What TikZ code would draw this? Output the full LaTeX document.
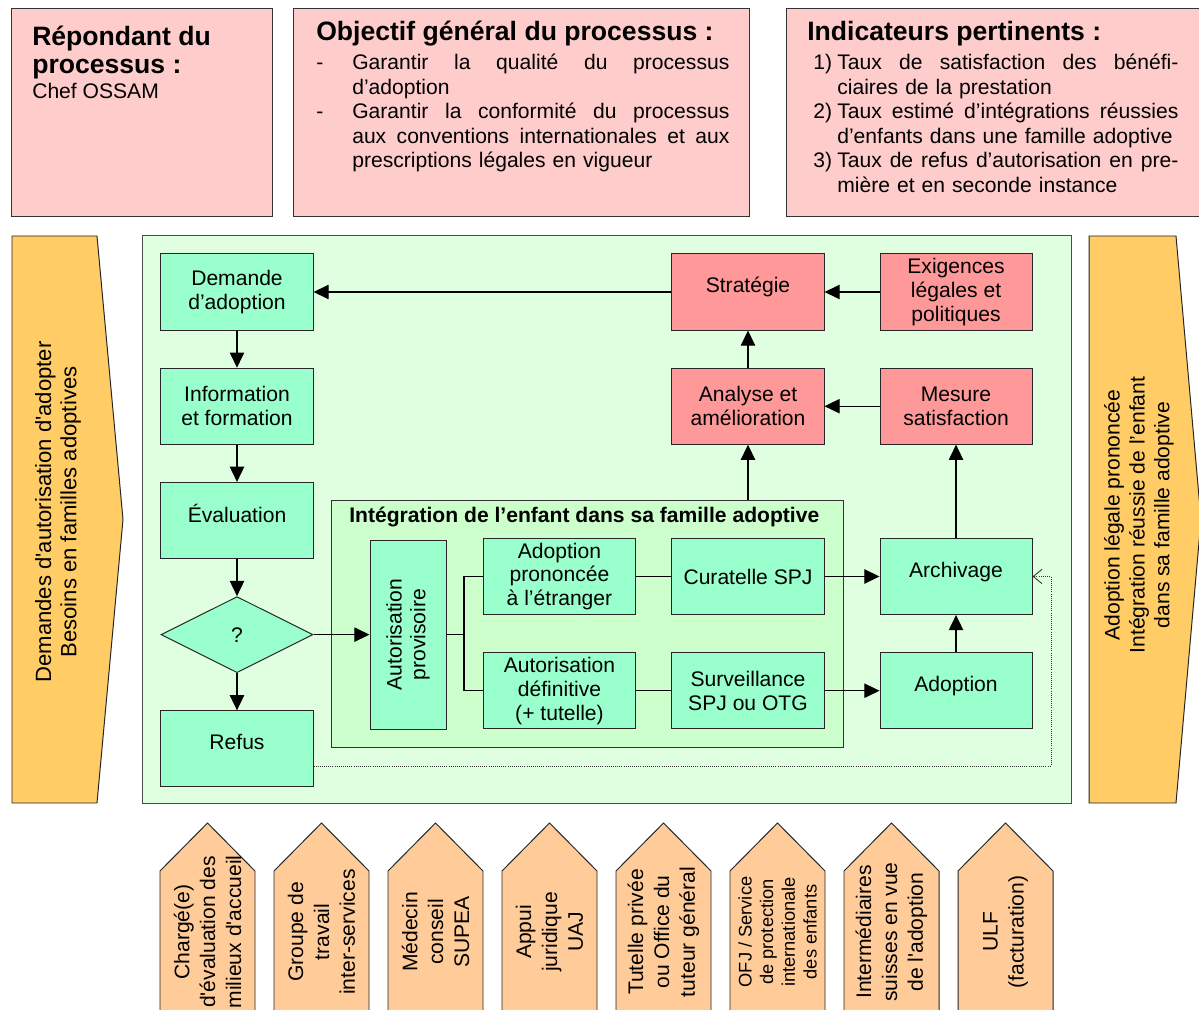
\documentclass[tikz,border=0pt]{standalone}
\usepackage{fontspec}
\setmainfont{Liberation Sans}
\usepackage{tikz}
\usetikzlibrary{shapes.geometric, arrows.meta, positioning, calc}
\definecolor{mint}{HTML}{99FFCC}
\definecolor{salmon}{HTML}{FF9999}
\definecolor{pinktop}{HTML}{FFCCCC}
\definecolor{paleg}{HTML}{E0FFE0}
\definecolor{innerg}{HTML}{CCFFCC}
\definecolor{flowor}{HTML}{FFCC66}
\definecolor{peach}{HTML}{FFCC99}
\newcommand\boxfont{\fontsize{15}{17}\selectfont}
\newcommand\headfont{\bfseries\fontsize{18.9}{20.6}\selectfont}
\newcommand\topfont{\fontsize{15}{17.4}\selectfont}

\begin{document}
\begin{tikzpicture}[
        x=0.025cm, y=-0.025cm,
        node distance=0.93cm and 0.93cm,
        every node/.style={font=\boxfont},
        box/.style={rectangle, draw=black!85, fill=mint, line width=0.7pt, minimum width=3.8cm, minimum height=1.9cm, align=center, inner sep=0pt},
        redbox/.style={box, fill=salmon},
        raised/.style={text depth=10pt},
        panel/.style={rectangle, draw=black!80, line width=0.7pt, inner sep=0pt},
        arrow/.style={-{Triangle[length=0.38cm, width=0.36cm]}, draw=black, line width=0.8pt},
        link/.style={draw=black, line width=0.8pt},
        backlink/.style={draw=black!80, line width=0.6pt, dash pattern=on 0.6pt off 0.9pt, -{Straight Barb[length=0.22cm, width=0.36cm]}},
        flow/.style={draw=black!85, fill=flowor, line width=0.7pt},
        actor/.style={draw=black!85, fill=peach, line width=0.7pt},
        vtext/.style={rotate=90, align=center, inner sep=0pt},
        plain/.style={anchor=base west, align=left, inner sep=0pt}
    ]
        \useasboundingbox (0,0) rectangle (1199,1010);

        \node[panel, fill=pinktop, minimum width=6.5cm, minimum height=5.175cm] (resp) at (142,112.5) {};
        \node[panel, fill=pinktop, minimum width=11.375cm, minimum height=5.175cm] (obj) at (521.5,112.5) {};
        \node[panel, fill=pinktop, minimum width=10.4cm, minimum height=5.175cm] (ind) at (995,112.5) {};

        \node[plain, font=\headfont] (resph) at (32,74) {Répondant du\\processus :};
        \node[plain, font=\topfont] (respb) at (32,99) {Chef OSSAM};

        \node[plain, font=\headfont] (objh) at (316,41) {Objectif général du processus :};
        \node[plain, font=\topfont, text width=10.325cm] (objb) at (316,70) {%
            \makebox[0.9cm][l]{-}\makebox[9.425cm][s]{Garantir\hfill la\hfill qualité\hfill du\hfill processus}\\
            \hspace*{0.9cm}d’adoption\\
            \makebox[0.9cm][l]{-}\makebox[9.425cm][s]{Garantir\hfill la\hfill conformité\hfill du\hfill processus}\\
            \hspace*{0.9cm}\makebox[9.425cm][s]{aux\hfill conventions\hfill internationales\hfill et\hfill aux}\\
            \hspace*{0.9cm}prescriptions légales en vigueur};

        \node[plain, font=\headfont] (indh) at (807,41) {Indicateurs pertinents :};
        \node[plain, font=\topfont, text width=9.125cm] (indb) at (813,70) {%
            \makebox[0.6cm][l]{1)}\makebox[8.525cm][s]{Taux\hfill de\hfill satisfaction\hfill des\hfill bénéfi-}\\
            \hspace*{0.6cm}ciaires de la prestation\\
            \makebox[0.6cm][l]{2)}\makebox[8.525cm][s]{Taux\hfill estimé\hfill d’intégrations\hfill réussies}\\
            \hspace*{0.6cm}d’enfants dans une famille adoptive\\
            \makebox[0.6cm][l]{3)}\makebox[8.525cm][s]{Taux\hfill de\hfill refus\hfill d’autorisation\hfill en\hfill pre-}\\
            \hspace*{0.6cm}mière et en seconde instance};

        \draw[flow] (12,236) -- (97,236) -- (123,519.5) -- (97,803) -- (12,803) -- cycle;
        \node[vtext, font=\fontsize{15.7}{17.9}\selectfont] (inputs) at (58,512) {Demandes d\textquotesingle autorisation d\textquotesingle adopter\\Besoins en familles adoptives};
        \draw[flow] (1089,236) -- (1176,236) -- (1201,519.5) -- (1176,803) -- (1089,803) -- cycle;
        \node[vtext, font=\fontsize{15}{17.7}\selectfont] (outputs) at (1139,515) {Adoption légale prononcée\\Intégration réussie de l’enfant\\dans sa famille adoptive};

        \node[panel, draw=black!70, fill=paleg, minimum width=23.2cm, minimum height=14.175cm] (main) at (607,519.5) {};
        \node[panel, fill=innerg, minimum width=12.775cm, minimum height=6.15cm] (integ) at (587.5,624) {};
        \node[plain, font=\bfseries\boxfont] (integt) at (349,523) {Intégration de l’enfant dans sa famille adoptive};

        \node[box] (dem) at (237,292) {Demande\\d’adoption};
        \node[box, below=of dem] (info) {Information\\et formation};
        \node[box, raised, below=of info] (eval) {Évaluation};
        \node[box, diamond, aspect=2, below=of eval] (q) {?};
        \node[box, raised, below=of q] (refus) {Refus};

        \node[redbox, raised] (strat) at (748,292) {Stratégie};
        \node[redbox, right=1.375cm of strat] (exig) {Exigences\\légales et\\politiques};
        \node[redbox, below=of strat] (anal) {Analyse et\\amélioration};
        \node[redbox, below=of exig] (mes) {Mesure\\satisfaction};

        \coordinate (provx) at (408,0);
        \node[box, rotate=90, minimum width=4.725cm] (prov) at (provx |- q) {Autorisation\\provisoire};
        \node[box] (pron) at (559.5,576.5) {Adoption\\prononcée\\à l’étranger};
        \node[box, below=of pron] (adef) {Autorisation\\définitive\\(+ tutelle)};
        \node[box] (cur) at (strat |- pron) {Curatelle SPJ};
        \node[box] (surv) at (strat |- adef) {Surveillance\\SPJ ou OTG};
        \node[box, raised] (arch) at (mes |- cur) {Archivage};
        \node[box, raised] (adop) at (mes |- surv) {Adoption};

        \coordinate (fork) at (prov -| 464,0);
        \coordinate (back) at (1051,766);

        \draw[arrow] (dem) -- (info);
        \draw[arrow] (info) -- (eval);
        \draw[arrow] (eval) -- (q);
        \draw[arrow] (q) -- (refus);
        \draw[arrow] (q.east) -- (prov);
        \draw[link] (prov) -- (fork);
        \draw[link] (fork) |- (pron);
        \draw[link] (fork) |- (adef);
        \draw[link] (pron) -- (cur);
        \draw[link] (adef) -- (surv);
        \draw[arrow] (cur) -- (arch);
        \draw[arrow] (surv) -- (adop);
        \draw[arrow] (adop) -- (arch);
        \draw[arrow] (arch) -- (mes);
        \draw[arrow] (mes) -- (anal);
        \draw[arrow] (integ.north -| anal) -- (anal);
        \draw[arrow] (anal) -- (strat);
        \draw[arrow] (exig) -- (strat);
        \draw[arrow] (strat) -- (dem);
        \draw[backlink] (refus.east |- back) -- (back) |- (arch.east);

        \foreach \txt/\fs/\bs [count=\i from 0] in {%
            {Chargé(e)\\d\textquotesingle évaluation des\\milieux d\textquotesingle accueil}/15/18.4,
            {Groupe de\\travail\\inter-services}/15/18.4,
            {Médecin\\conseil\\SUPEA}/15/18.4,
            {Appui\\juridique\\UAJ}/15/18.4,
            {Tutelle privée\\ou Office du\\tuteur général}/15/18.4,
            {OFJ / Service\\de protection\\internationale\\des enfants}/13/15.4,
            {Intermédiaires\\suisses en vue\\de l\textquotesingle adoption}/15/18.4,
            {ULF\\(facturation)}/15/18.4} {
            \draw[actor] ({160+114*\i},1015) -- ++(0,-144) -- ++(47.5,-48) -- ++(47.5,48) -- ++(0,144);
            \node[vtext, font=\fontsize{\fs}{\bs}\selectfont] (res\i) at ({207.5+114*\i},932) {\txt};
        }
    \end{tikzpicture}
\end{document}
